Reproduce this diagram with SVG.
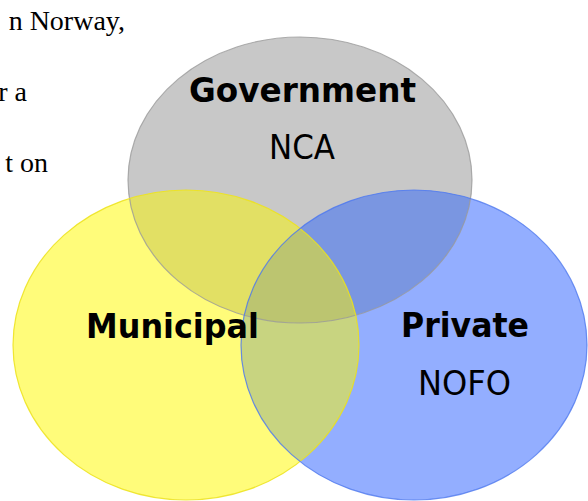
<svg xmlns="http://www.w3.org/2000/svg" width="588" height="501" viewBox="0 0 588 501">
  <style>
    .body { font-family: "Liberation Serif", "Times New Roman", serif; font-size: 28px; fill: #000; }
    .title { font-family: "DejaVu Sans", Verdana, sans-serif; font-weight: bold; font-size: 34px; fill: #000; text-anchor: middle; }
    .sub { font-family: "DejaVu Sans", Tahoma, sans-serif; font-size: 33px; fill: #000; text-anchor: middle; }
    .edge { fill: none; stroke-width: 1.2; }
  </style>
  <defs>
    <ellipse id="shape-gov" cx="300" cy="180" rx="172" ry="143"/>
    <ellipse id="shape-mun" cx="186" cy="345" rx="173" ry="155"/>
    <ellipse id="shape-pri" cx="414" cy="345" rx="173" ry="155"/>
    <clipPath id="clip-gov"><use href="#shape-gov"/></clipPath>
    <clipPath id="clip-mun"><use href="#shape-mun"/></clipPath>
    <clipPath id="clip-pri"><use href="#shape-pri"/></clipPath>
  </defs>

  <rect width="588" height="501" fill="#ffffff"/>

  <!-- running text beside the figure -->
  <g id="page-text">
    <text class="body" x="125" y="30" text-anchor="end">n Norway,</text>
    <text class="body" x="27" y="101" text-anchor="end">r a</text>
    <text class="body" x="48" y="172" text-anchor="end">t on</text>
  </g>

  <!-- circle fills -->
  <g id="node-government"><use href="#shape-gov" fill="#c8c8c8"/></g>
  <g id="node-municipal"><use href="#shape-mun" fill="#fffc7a"/></g>
  <g id="node-private"><use href="#shape-pri" fill="#93aeff"/></g>

  <!-- shared areas -->
  <g id="overlaps">
    <g clip-path="url(#clip-gov)"><use href="#shape-mun" fill="#e2e064"/></g>
    <g clip-path="url(#clip-gov)"><use href="#shape-pri" fill="#7a96e1"/></g>
    <g clip-path="url(#clip-mun)"><use href="#shape-pri" fill="#c8d480"/></g>
    <g clip-path="url(#clip-gov)"><g clip-path="url(#clip-mun)"><use href="#shape-pri" fill="#bcc570"/></g></g>
  </g>

  <!-- outlines -->
  <g id="outlines">
    <use href="#shape-gov" class="edge" stroke="#9a9a9a" stroke-opacity="0.8"/>
    <use href="#shape-mun" class="edge" stroke="#ece21a" stroke-opacity="0.85"/>
    <use href="#shape-pri" class="edge" stroke="#4d78ee" stroke-opacity="0.8"/>
  </g>

  <!-- labels -->
  <g id="label-government">
    <text class="title" x="302.5" y="102" textLength="227" lengthAdjust="spacingAndGlyphs">Government</text>
    <text class="sub" x="302" y="159" textLength="66" lengthAdjust="spacingAndGlyphs">NCA</text>
  </g>
  <g id="label-municipal">
    <text class="title" x="172.5" y="338" textLength="173" lengthAdjust="spacingAndGlyphs">Municipal</text>
  </g>
  <g id="label-private">
    <text class="title" x="465" y="337" textLength="128" lengthAdjust="spacingAndGlyphs">Private</text>
    <text class="sub" x="464.5" y="395" textLength="93" lengthAdjust="spacingAndGlyphs">NOFO</text>
  </g>
</svg>
